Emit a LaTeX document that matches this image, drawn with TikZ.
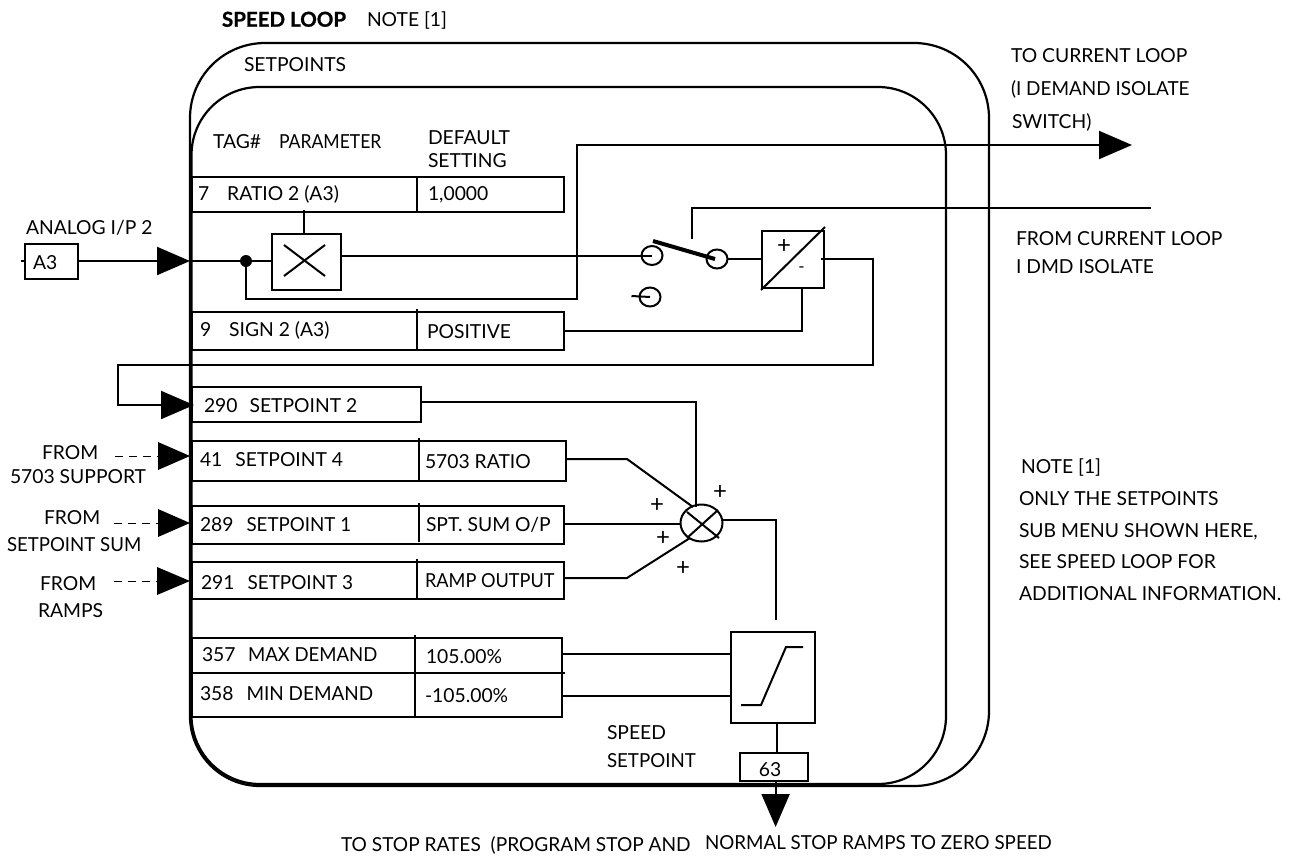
\documentclass[tikz,border=0pt]{standalone}
\usepackage{graphicx}
\usepackage{fontspec}
\setmainfont{Lato}
\newfontfamily\heavyf[BoldFeatures={FakeBold=1}]{Lato}
\usetikzlibrary{arrows.meta,calc,shapes.geometric}
\newcommand{\LT}[4]{\node[lbl] (#1) at (#2,#3) {#4};}
\newcommand{\BX}[6]{\node[#6,anchor=north west,minimum width=#4-#2,minimum height=#5-#3] (#1) at (#2,#3) {};}
\newcommand{\nar}[2]{\scalebox{#1}[1]{#2}}
\tikzset{
  x=1pt,y=-1pt,
  lbl/.style={anchor=base west,inner sep=0pt,outer sep=0pt,yshift=-6.7pt,font=\fontsize{19.3}{22}\selectfont,text=black},
  sm/.style={anchor=center,inner sep=0pt,font=\fontsize{24}{24}\selectfont},
  box/.style={draw=black,line width=2.2pt,inner sep=0pt,outer sep=0pt,fill=white},
  wire/.style={draw=black,line width=2pt,line join=miter},
  frame/.style={draw=black,line width=2.2pt},
  contact/.style={draw=black,line width=2pt,ellipse,minimum width=21pt,minimum height=19pt,inner sep=0pt,outer sep=0pt},
  bigarrow/.style={-{Triangle[length=33pt,width=28pt]}},
  feeddash/.style={draw=black,line width=1pt,dash pattern=on 8pt off 6pt},
  divider/.style={draw=black,line width=2.2pt},
}
\begin{document}
\begin{tikzpicture}
\useasboundingbox (0,0) rectangle (1291,857);
% frames
\draw[frame] (190,716) -- (190,118) arc[start angle=180,end angle=270,radius=75] -- (914,43) arc[start angle=270,end angle=360,radius=75] -- (989,711) arc[start angle=0,end angle=90,radius=75] -- (260,786) arc[start angle=90,end angle=180,radius=70];
\draw[frame] (191.5,716) -- (191.5,155) arc[start angle=180,end angle=270,radius=68] -- (878,87) arc[start angle=270,end angle=360,radius=68] -- (946,716) arc[start angle=0,end angle=90,radius=68] -- (260,784) arc[start angle=90,end angle=180,radius=68.5];
% titles
\LT{speedloop}{222}{20}{\fontsize{20.5}{22}\selectfont\heavyf\bfseries SPEED LOOP}
\LT{note}{367}{20}{NOTE [1]}
\LT{setpoints}{244}{65}{SETPOINTS}
\LT{taghdr}{213}{142}{TAG\#}
\LT{parhdr}{279}{142}{\nar{0.91}{PARAMETER}}
\LT{defhdr}{428}{138}{DEFAULT}
\LT{sethdr}{428}{161}{SETTING}
% right labels
\LT{tocur}{1011}{56}{TO CURRENT LOOP}
\LT{idem}{1011}{89}{\nar{0.98}{(I DEMAND ISOLATE}}
\LT{swit}{1012}{122}{SWITCH)}
\LT{fromcur}{1016}{239}{FROM CURRENT LOOP}
\LT{idmd}{1016}{267}{I DMD ISOLATE}
\LT{n1}{1021}{467}{NOTE [1]}
\LT{n2}{1019}{499}{ONLY THE SETPOINTS}
\LT{n3}{1019}{531}{SUB MENU SHOWN HERE,}
\LT{n4}{1019}{562}{SEE SPEED LOOP FOR}
\LT{n5}{1019}{594}{ADDITIONAL INFORMATION.}
% left labels
\LT{analog}{26}{228}{ANALOG I/P 2}
\LT{f1}{42}{453}{FROM}
\LT{f1b}{10}{477}{5703 SUPPORT}
\LT{f2}{44}{518}{FROM}
\LT{f2b}{7}{545}{\nar{0.965}{SETPOINT SUM}}
\LT{f3}{40}{584}{FROM}
\LT{f3b}{38}{611}{RAMPS}
% bottom labels
\LT{bot1}{341}{845}{\nar{0.99}{TO STOP RATES\ \ (PROGRAM STOP AND}}
\LT{bot2}{705}{843}{\nar{0.972}{NORMAL STOP RAMPS TO ZERO SPEED}}
\LT{spd}{607}{733}{SPEED}
\LT{spdb}{607}{761}{\nar{0.97}{SETPOINT}}
% table boxes
\BX{rRatio}{192}{177}{564}{212}{box}
\draw[divider] (417,177) -- (417,212);
\BX{rSign}{192}{312}{564}{350}{box}
\draw[divider] (417,309) -- (417,350);
\BX{rSp2}{192}{387}{421}{422}{box}
\BX{rSp4}{192}{441}{566}{481}{box}
\draw[divider] (419,438) -- (419,481);
\BX{rSp1}{192}{506}{564}{544}{box}
\draw[divider] (419,503) -- (419,542);
\BX{rSp3}{192}{562}{564}{599}{box}
\draw[divider] (417,559) -- (417,599);
\BX{rMax}{192}{638}{562}{673}{box}
\BX{rMin}{192}{673}{562}{717}{box}
\draw[divider] (415,635) -- (415,717);
\draw[divider] (562,673) -- (565,673);
% table text
\LT{t7}{198}{194}{7\hspace{18pt}RATIO 2 (A3)}
\LT{v7}{428}{194}{1,0000}
\LT{t9}{200}{330}{9\hspace{18pt}SIGN 2 (A3)}
\LT{v9}{427}{332}{POSITIVE}
\LT{t290}{204}{406}{290\hspace{12pt}SETPOINT 2}
\LT{t41}{200}{460}{41\hspace{13pt}SETPOINT 4}
\LT{v41}{425}{462}{5703 RATIO}
\LT{t289}{200}{525}{289\hspace{13pt}\nar{0.97}{SETPOINT 1}}
\LT{v289}{426}{525}{SPT. SUM O/P}
\LT{t291}{201}{583}{291\hspace{13pt}\nar{0.98}{SETPOINT 3}}
\LT{v291}{425}{581}{\nar{0.94}{RAMP OUTPUT}}
\LT{t357}{202}{655}{357\hspace{12.5pt}\nar{0.96}{MAX DEMAND}}
\LT{v357}{426}{657}{105.00\%}
\LT{t358}{200}{694}{358\hspace{13pt}\nar{0.98}{MIN DEMAND}}
\LT{v358}{425}{696}{-105.00\%}
% input
\BX{a3}{25}{244}{78}{279}{box}
\LT{a3t}{33}{263}{A3}
\coordinate (a3tick) at (21,261);
\coordinate (inTip) at (190,261);
\draw[wire] (a3tick) -- (a3.west |- a3tick);
\draw[wire,bigarrow] (a3.east |- inTip) -- (inTip);
% multiplier
\BX{mult}{272}{234}{341}{290}{box}
\coordinate (mx1) at (284,245); \coordinate (mx2) at (325,276);
\coordinate (mx3) at (325,245); \coordinate (mx4) at (284,276);
\draw[wire] (mx1) -- (mx2) (mx3) -- (mx4);
\coordinate (multtop) at (304,210);
\draw[wire] (multtop) -- (multtop |- mult.north);
\node[fill=black,circle,minimum size=12pt,inner sep=0pt] (dot) at (246,261) {};
\draw[wire] (inTip) -- (dot) -- (mult.west |- dot);
% feed-through to current loop
\coordinate (fb1) at (246,299); \coordinate (fb2) at (577,299); \coordinate (fb3) at (577,145);
\coordinate (outTip) at (1132,145);
\draw[wire,bigarrow] (dot) -- (fb1) -- (fb2) -- (fb3) -- (outTip);
% switch
\node[contact] (c1) at (652,255.5) {};
\node[contact] (c2) at (717,259) {};
\node[contact] (c3) at (650,297) {};
\coordinate (c3tick) at (631.5,296);
\draw[wire] (c3tick) -- (c3.center);
\draw[wire] (mult.east |- c1) -- (c1.center);
\coordinate (armA) at (653,241);
\coordinate (armB) at (715,259);
\draw[draw=black,line width=4pt] (armA) -- (armB);
\coordinate (isoA) at (692,239); \coordinate (isoB) at (692,208); \coordinate (isoC) at (1150.5,208);
\draw[wire] (isoA) -- (isoB) -- (isoC);
% sign box
\BX{sign}{762}{231}{824}{288}{box}
\coordinate (sgA) at (761,290); \coordinate (sgB) at (825,227);
\draw[wire] (sgA) -- (sgB);
\node[sm] (sgp) at (784,246) {+};
\node[sm,font=\fontsize{17}{20}\selectfont] (sgm) at (801.5,270) {-};
\draw[wire] (c2.east) -- (sign.west |- c2.east);
\coordinate (sg1) at (821,259); \coordinate (sg2) at (873,259); \coordinate (sg3) at (873,365);
\coordinate (sg4) at (118,365); \coordinate (sg5) at (118,405); \coordinate (sp2Tip) at (194,405);
\draw[wire,bigarrow] (sg1) -- (sg2) -- (sg3) -- (sg4) -- (sg5) -- (sp2Tip);
\coordinate (posA) at (802,331);
\draw[wire] (rSign.east |- posA) -- (posA) -- (posA |- sign.south);
% sum junction
\node[contact,minimum width=42pt,minimum height=37pt] (sum) at (701.5,523) {};
\coordinate (sx1) at (687,512); \coordinate (sx2) at (719,538);
\coordinate (sx3) at (718,510); \coordinate (sx4) at (687,538);
\draw[wire] (sx1) -- (sx2) (sx3) -- (sx4);
\node[sm] (pl1) at (657,505) {+};
\node[sm] (pl2) at (720,492) {+};
\node[sm] (pl3) at (663,538) {+};
\node[sm] (pl4) at (683,568) {+};
\coordinate (w1) at (627,459); \coordinate (w1e) at (693,507);
\draw[wire] (rSp4.east |- w1) -- (w1) -- (w1e);
\draw[wire] (rSp1.east |- 0,524) -- (sum.west |- 0,524);
\coordinate (w3) at (627,578); \coordinate (w3e) at (690,538);
\draw[wire] (rSp3.east |- w3) -- (w3) -- (w3e);
\coordinate (w2a) at (695.5,402); \coordinate (w2b) at (695.5,507);
\draw[wire] (rSp2.east |- w2a) -- (w2a) -- (w2b);
% limit
\BX{lim}{731}{632}{815}{723}{box}
\coordinate (lm1) at (741,705); \coordinate (lm2) at (761,705); \coordinate (lm3) at (786,647); \coordinate (lm4) at (803,647);
\draw[wire] (lm1) -- (lm2) -- (lm3) -- (lm4);
\coordinate (so1) at (723,520); \coordinate (so2) at (776,520); \coordinate (so3) at (776,620);
\draw[wire] (so1) -- (so2) -- (so3);
\draw[wire] (rMax.east |- 0,654) -- (lim.west |- 0,654);
\draw[wire] (rMin.east |- 0,696) -- (lim.west |- 0,696);
% tag 63
\BX{tagbox}{740}{753}{808}{781}{box}
\node[sm,font=\fontsize{19.3}{22}\selectfont] (tag63) at (770,770) {63};
\draw[wire] (777,723) -- (777,753);
\coordinate (botTip) at (775.6,827);
\draw[wire,bigarrow] (775.6,781) -- (botTip);
% dashed feeds
\coordinate (d1) at (115,456); \coordinate (d1t) at (190,456);
\coordinate (d2) at (114,523); \coordinate (d2t) at (190,523);
\coordinate (d3) at (114,581); \coordinate (d3t) at (190,581);
\draw[feeddash] (d1) -- (160,456);
\draw[feeddash] (d2) -- (160,523);
\draw[feeddash] (d3) -- (158,581);
\fill[black] (d1t) -- (158,442) -- (158,470) -- cycle;
\fill[black] (d2t) -- (158,509) -- (158,537) -- cycle;
\fill[black] (d3t) -- (157,567) -- (157,595) -- cycle;
\end{tikzpicture}
\end{document}
